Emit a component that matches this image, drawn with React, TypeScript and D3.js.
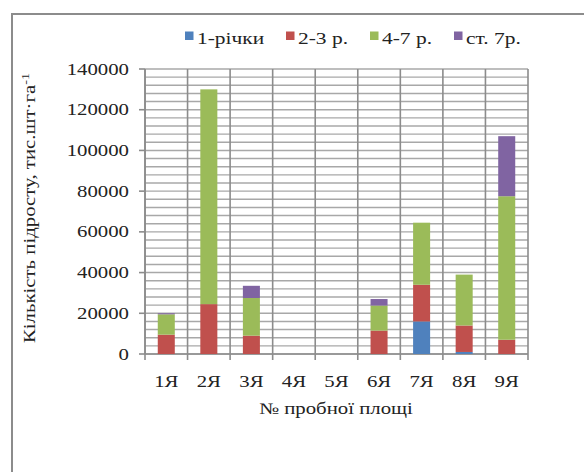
import React, { useEffect, useRef } from "react";
import * as d3 from "d3";

const categories = ["1Я", "2Я", "3Я", "4Я", "5Я", "6Я", "7Я", "8Я", "9Я"];
const seriesNames = ["1-річки", "2-3 р.", "4-7 р.", "ст. 7р."];
const yearlings = [0, 0, 0, 0, 0, 0, 16000, 1000, 0];
const age2to3 = [9500, 24500, 9000, 0, 0, 11500, 18000, 13000, 7000];
const age4to7 = [10000, 105500, 18500, 0, 0, 12300, 30500, 25000, 70500];
const over7 = [500, 0, 6000, 0, 0, 3200, 0, 0, 29500];
const yTicks = [0, 20000, 40000, 60000, 80000, 100000, 120000, 140000];
const colors = ["#4F81BD", "#C0504D", "#9BBB59", "#8064A2"];

const App = () => {
  const svgRef = useRef<SVGSVGElement | null>(null);

  useEffect(() => {
    const width = 584;
    const height = 472;
    const font = "'Liberation Serif', 'Times New Roman', serif";
    const sx = 1.3;

    const svg = d3.select(svgRef.current).attr("width", width).attr("height", height);
    svg.selectAll("*").remove();

    svg.append("rect").attr("width", width).attr("height", height).attr("fill", "#fff");

    // outer chart border (goes off the page on right and bottom)
    svg.append("rect")
      .attr("x", 12).attr("y", 14)
      .attr("width", 600).attr("height", 500)
      .attr("fill", "none").attr("stroke", "#8c8c8c").attr("stroke-width", 2);

    const rows = categories.map((c, i) => ({
      cat: c,
      s0: yearlings[i],
      s1: age2to3[i],
      s2: age4to7[i],
      s3: over7[i],
    }));
    const keys = ["s0", "s1", "s2", "s3"];

    const x = d3.scaleBand<string>()
      .domain(categories)
      .range([145, 528])
      .paddingInner(0.6)
      .paddingOuter(0.3);

    const y = d3.scaleLinear().domain([0, 140000]).range([354, 69]);

    const grid = svg.append("g");
    // minor + major horizontal gridlines
    d3.range(0, 140001, 4000).forEach((v) => {
      grid.append("line")
        .attr("x1", 145).attr("x2", 528)
        .attr("y1", y(v)).attr("y2", y(v))
        .attr("stroke", "#a8a8a8").attr("stroke-width", 1.4);
    });
    // vertical gridlines at category borders
    d3.range(0, categories.length + 1).forEach((i) => {
      const gx = 145 + i * x.step();
      grid.append("line")
        .attr("x1", gx).attr("x2", gx)
        .attr("y1", y(140000)).attr("y2", 360)
        .attr("stroke", "#8c8c8c").attr("stroke-width", 1.6);
    });

    // y axis
    svg.append("line")
      .attr("x1", 145).attr("x2", 145).attr("y1", y(140000)).attr("y2", y(0))
      .attr("stroke", "#8c8c8c").attr("stroke-width", 1.6);
    svg.append("line")
      .attr("x1", 145).attr("x2", 528).attr("y1", y(0)).attr("y2", y(0))
      .attr("stroke", "#8c8c8c").attr("stroke-width", 1.6);
    yTicks.forEach((t) => {
      svg.append("line")
        .attr("x1", 139).attr("x2", 145).attr("y1", y(t)).attr("y2", y(t))
        .attr("stroke", "#8c8c8c").attr("stroke-width", 1.6);
      svg.append("text")
        .attr("transform", `translate(129,${y(t) + 5.5}) scale(${sx},1)`)
        .attr("text-anchor", "end")
        .attr("font-family", font).attr("font-size", 16).attr("fill", "#222")
        .text(String(t));
    });

    // stacked bars
    const stacked = d3.stack<any>().keys(keys)(rows);
    stacked.forEach((layer, li) => {
      svg.append("g")
        .attr("fill", colors[li])
        .selectAll("rect")
        .data(layer)
        .enter()
        .append("rect")
        .attr("x", (d) => x(d.data.cat)!)
        .attr("y", (d) => y(d[1]))
        .attr("width", x.bandwidth())
        .attr("height", (d) => y(d[0]) - y(d[1]));
    });

    // x tick labels
    categories.forEach((c) => {
      svg.append("text")
        .attr("transform", `translate(${x(c)! + x.bandwidth() / 2},387) scale(${sx},1)`)
        .attr("text-anchor", "middle")
        .attr("font-family", font).attr("font-size", 16).attr("fill", "#222")
        .text(c);
    });

    // x title
    svg.append("text")
      .attr("transform", `translate(336,414) scale(${sx},1)`)
      .attr("text-anchor", "middle")
      .attr("font-family", font).attr("font-size", 16).attr("fill", "#222")
      .text("№ пробної площі");

    // y title
    const yt = svg.append("text")
      .attr("transform", `translate(35,208) rotate(-90) scale(${sx},1)`)
      .attr("text-anchor", "middle")
      .attr("font-family", font).attr("font-size", 16).attr("fill", "#222");
    yt.append("tspan").text("Кількість підросту, тис.шт·га");
    yt.append("tspan").attr("dy", -6).attr("font-size", 11).text("-1");

    // legend
    const legendX = [185, 286, 370, 454];
    seriesNames.forEach((name, i) => {
      svg.append("rect")
        .attr("x", legendX[i]).attr("y", 31.5)
        .attr("width", 8.5).attr("height", 8.5)
        .attr("fill", colors[i]);
      svg.append("text")
        .attr("transform", `translate(${legendX[i] + 12},44) scale(${sx},1)`)
        .attr("font-family", font).attr("font-size", 16.5).attr("fill", "#222")
        .text(name);
    });
  }, []);

  return (
    <svg ref={svgRef} style={{ position: "absolute", left: 0, top: 0 }}></svg>
  );
};

export default App;
